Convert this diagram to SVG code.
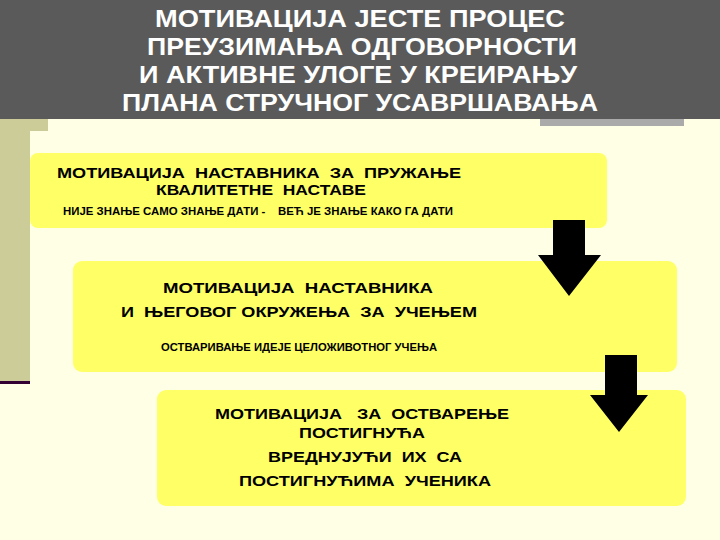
<svg xmlns="http://www.w3.org/2000/svg" width="720" height="540" viewBox="0 0 720 540" xml:space="preserve">
<style>
.box{fill:#ffff66}
text{white-space:pre;font-family:"Liberation Sans",Arial,sans-serif;font-weight:bold}
.h{fill:#fff;font-size:24px;text-anchor:middle}
.t{fill:#000;font-size:15px;text-anchor:middle}
.s{fill:#000;font-size:10px;text-anchor:middle}
.arr{fill:#000}
</style>
<rect width="720" height="540" fill="#ffffe6"/>
<rect x="0" y="118" width="48" height="13" fill="#cccc99"/>
<rect x="0" y="118" width="30" height="265" fill="#cccc99"/>
<rect x="0" y="381" width="30" height="3" fill="#330033"/>
<rect x="540" y="118" width="144" height="8" fill="#aaaaaa"/>
<g id="header">
<rect x="0" y="0" width="720" height="119" fill="#5a5a5a"/>
<text class="h" x="360" y="27" textLength="410" lengthAdjust="spacingAndGlyphs">МОТИВАЦИЈА ЈЕСТЕ ПРОЦЕС</text>
<text class="h" x="362" y="55" textLength="430" lengthAdjust="spacingAndGlyphs">ПРЕУЗИМАЊА ОДГОВОРНОСТИ</text>
<text class="h" x="358" y="83" textLength="438" lengthAdjust="spacingAndGlyphs">И АКТИВНЕ УЛОГЕ У КРЕИРАЊУ</text>
<text class="h" x="360" y="111" textLength="476" lengthAdjust="spacingAndGlyphs">ПЛАНА СТРУЧНОГ УСАВРШАВАЊА</text>
</g>
<g id="box1">
<rect class="box" x="30" y="153" width="577" height="75" rx="8"/>
<text class="t" x="259" y="178" textLength="404" lengthAdjust="spacingAndGlyphs">МОТИВАЦИЈА  НАСТАВНИКА  ЗА  ПРУЖАЊЕ</text>
<text class="t" x="261" y="195" textLength="210" lengthAdjust="spacingAndGlyphs">КВАЛИТЕТНЕ  НАСТАВЕ</text>
<text class="s" x="258" y="215" textLength="390" lengthAdjust="spacingAndGlyphs">НИЈЕ ЗНАЊЕ САМО ЗНАЊЕ ДАТИ -    ВЕЋ ЈЕ ЗНАЊЕ КАКО ГА ДАТИ</text>
</g>
<g id="box2">
<rect class="box" x="73" y="261" width="604" height="111" rx="9"/>
<text class="t" x="298" y="293" textLength="270" lengthAdjust="spacingAndGlyphs">МОТИВАЦИЈА  НАСТАВНИКА</text>
<text class="t" x="299" y="317" textLength="356" lengthAdjust="spacingAndGlyphs">И  ЊЕГОВОГ ОКРУЖЕЊА  ЗА  УЧЕЊЕМ</text>
<text class="s" x="299" y="351" textLength="276" lengthAdjust="spacingAndGlyphs">ОСТВАРИВАЊЕ ИДЕЈЕ ЦЕЛОЖИВОТНОГ УЧЕЊА</text>
</g>
<g id="box3">
<rect class="box" x="157" y="390" width="529" height="116" rx="9"/>
<text class="t" x="362" y="419" textLength="294" lengthAdjust="spacingAndGlyphs">МОТИВАЦИЈА   ЗА  ОСТВАРЕЊЕ</text>
<text class="t" x="362" y="438" textLength="126" lengthAdjust="spacingAndGlyphs">ПОСТИГНУЋА</text>
<text class="t" x="365" y="462" textLength="194" lengthAdjust="spacingAndGlyphs">ВРЕДНУЈУЋИ  ИХ  СА</text>
<text class="t" x="365" y="486" textLength="252" lengthAdjust="spacingAndGlyphs">ПОСТИГНУЋИМА  УЧЕНИКА</text>
</g>
<g id="connectors">
<polygon class="arr" points="553,220 585,220 585,255 601,255 569,296 538,255 553,255"/>
<polygon class="arr" points="605,355 637,355 637,395 648,395 619,432 590,395 605,395"/>
</g>
</svg>
